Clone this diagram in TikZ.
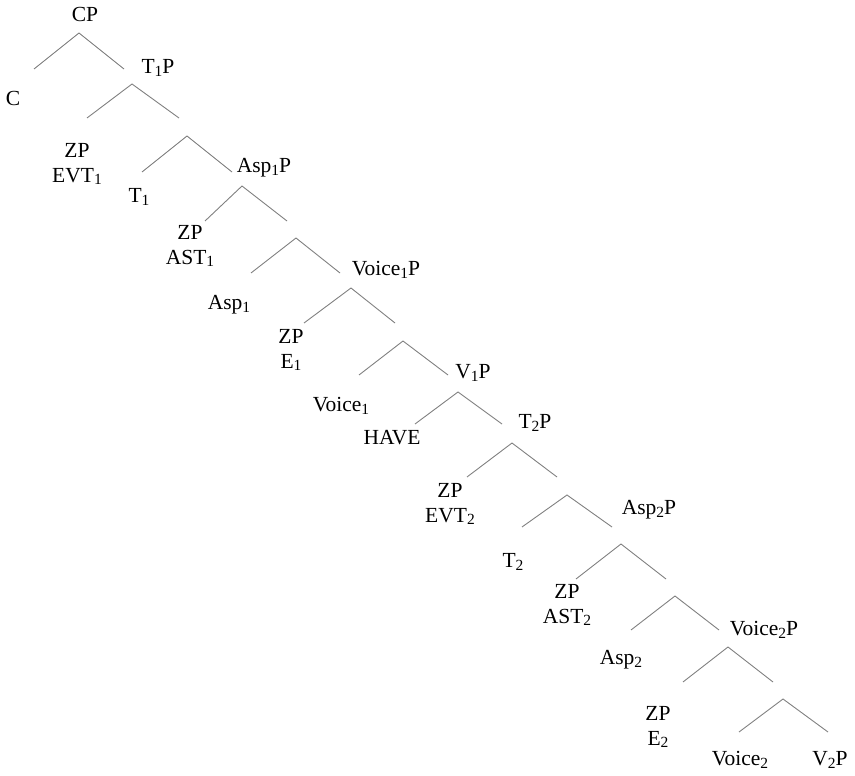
\documentclass[tikz,border=0pt]{standalone}
\usepackage{fontspec}
\setmainfont{Liberation Serif}
% lowered small index digit
\newcommand\lo[1]{\raisebox{-0.25ex}{\fontsize{15.5}{15.5}\selectfont #1}}
\begin{document}
\begin{tikzpicture}[x=1pt,y=-1pt,
  branch/.style={draw=black!50, line width=0.9pt},
  lab/.style={inner sep=0pt, font=\fontsize{21.5}{25}\selectfont, align=center, anchor=center}]
\useasboundingbox (0,0) rectangle (855,776);

% labels
\node[lab] (cp) at (85,14) {CP};
\node[lab] (c) at (13,98) {C};
\node[lab] (t1p) at (158,68) {T\lo{1}P};
\node[lab] (evt1) at (77,164) {ZP\\EVT\lo{1}};
\node[lab] (t1) at (139,197) {T\lo{1}};
\node[lab] (asp1p) at (264,168) {Asp\lo{1}P};
\node[lab] (ast1) at (190,246) {ZP\\AST\lo{1}};
\node[lab] (asp1) at (229,305) {Asp\lo{1}};
\node[lab] (voice1p) at (386,270) {Voice\lo{1}P};
\node[lab] (e1) at (291,350) {ZP\\E\lo{1}};
\node[lab] (voice1) at (341,406) {Voice\lo{1}};
\node[lab] (v1p) at (473,373) {V\lo{1}P};
\node[lab] (have) at (392,438) {HAVE};
\node[lab] (t2p) at (535,423) {T\lo{2}P};
\node[lab] (evt2) at (450,504) {ZP\\EVT\lo{2}};
\node[lab] (t2) at (513,562) {T\lo{2}};
\node[lab] (asp2p) at (649,510) {Asp\lo{2}P};
\node[lab] (ast2) at (567,605) {ZP\\AST\lo{2}};
\node[lab] (asp2) at (621,660) {Asp\lo{2}};
\node[lab] (voice2p) at (764,630) {Voice\lo{2}P};
\node[lab] (e2) at (658,727) {ZP\\E\lo{2}};
\node[lab] (voice2) at (740,760) {Voice\lo{2}};
\node[lab] (v2p) at (830,760) {V\lo{2}P};

% branch points: apex, left end, right end of each fork
\foreach \i/\ax/\ay/\lx/\rx/\ly in {
  1/79/33/34/124/69,
  2/132/84/87/179/118,
  3/187/136/142/232/172,
  4/242/186/205/287/221,
  5/296/238/251/340/273,
  6/351/288/304/395/323,
  7/403/341/359/448/375,
  8/458/392/415/502/424,
  9/512/443/467/557/477,
  10/567/495/522/612/527,
  11/621/544/576/666/579,
  12/675/596/631/719/630,
  13/728/647/683/773/682,
  14/783/699/739/828/732}{
  \coordinate (a\i) at (\ax,\ay);
  \coordinate (l\i) at (\lx,\ly);
  \coordinate (r\i) at (\rx,\ly);
  \draw[branch] (l\i) -- (a\i) -- (r\i);
}
\end{tikzpicture}
\end{document}
